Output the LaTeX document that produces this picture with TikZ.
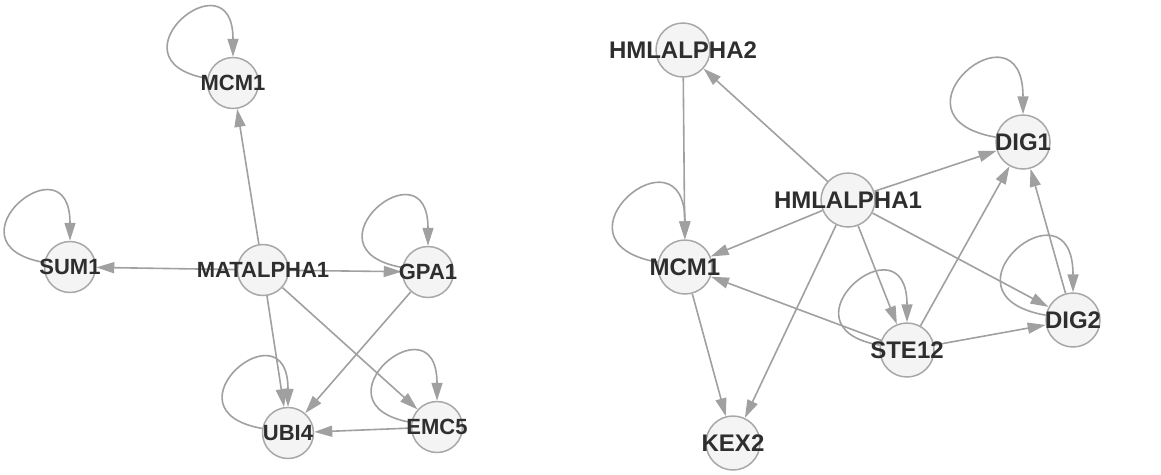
\documentclass[tikz,border=0pt]{standalone}
\usepackage{fontspec}
\setmainfont{Liberation Sans}
\usetikzlibrary{arrows.meta,backgrounds}
\definecolor{genefill}{HTML}{F4F4F4}
\definecolor{generim}{HTML}{A8A8A8}
\definecolor{linkgray}{HTML}{A0A0A0}
\definecolor{genetext}{HTML}{2E2E2E}

\begin{document}
\begin{tikzpicture}[x=1pt,y=-1pt,
    gene/.style={circle,draw=generim,line width=1.5pt,fill=genefill,minimum size=#1,inner sep=0pt},
    gene/.default=51pt,
    every label/.style={text=genetext,font=\bfseries\fontsize{22}{22}\selectfont},
    link/.style={draw=linkgray,line width=1.6pt,-{Triangle[length=18pt,width=11pt]}},
    selfloop/.style={out=170,in=90,min distance=#1},
    selfloop/.default=105pt]
    \useasboundingbox (0,0) rectangle (1161,474);

    % left network
    \node [gene,label=center:MCM1] (lmcm) at (233,83) {};
    \node [gene,label=center:SUM1] (sum) at (70,267) {};
    \node [gene,label=center:MATALPHA1] (mat) at (263,270) {};
    \node [gene,label=center:GPA1] (gpa) at (428,272) {};
    \node [gene,label=center:UBI4] (ubi) at (288,433) {};
    \node [gene,label=center:EMC5] (emc) at (437,427) {};

    % right network
    \begin{scope}[every label/.style={text=genetext,font=\bfseries\fontsize{24}{24}\selectfont}]
      \node [gene=54pt,label=center:HMLALPHA2] (hml2) at (683,50) {};
      \node [gene=54pt,label=center:HMLALPHA1] (hml1) at (848,200) {};
      \node [gene=54pt,label=center:DIG1] (dig1) at (1023,142) {};
      \node [gene=54pt,label=center:MCM1] (rmcm) at (685,267) {};
      \node [gene=54pt,label=center:STE12] (ste) at (907,350) {};
      \node [gene=54pt,label=center:DIG2] (dig2) at (1073,320) {};
      \node [gene=54pt,label=center:KEX2] (kex) at (733,443) {};
    \end{scope}

    \begin{scope}[on background layer]
      \draw [link] (mat) -- (lmcm);
      \draw [link] (mat) -- (sum);
      \draw [link] (mat) -- (gpa);
      \draw [link] (mat) -- (ubi);
      \draw [link] (mat) -- (emc);
      \draw [link] (gpa) -- (ubi);
      \draw [link] (emc) -- (ubi);
      \draw [link] (lmcm) to [selfloop] (lmcm);
      \draw [link] (sum) to [selfloop] (sum);
      \draw [link] (gpa) to [selfloop] (gpa);
      \draw [link] (ubi) to [selfloop] (ubi);
      \draw [link] (emc) to [selfloop] (emc);

      \draw [link] (hml1) -- (hml2);
      \draw [link] (hml2) -- (rmcm);
      \draw [link] (hml1) -- (rmcm);
      \draw [link] (hml1) -- (dig1);
      \draw [link] (hml1) -- (ste);
      \draw [link] (hml1) -- (dig2);
      \draw [link] (hml1) -- (kex);
      \draw [link] (rmcm) -- (kex);
      \draw [link] (ste) -- (rmcm);
      \draw [link] (ste) -- (dig1);
      \draw [link] (ste) -- (dig2);
      \draw [link] (dig2) -- (dig1);
      \draw [link] (rmcm) to [selfloop=118pt] (rmcm);
      \draw [link] (dig1) to [selfloop=118pt] (dig1);
      \draw [link] (ste) to [selfloop=108pt] (ste);
      \draw [link] (dig2) to [selfloop=118pt] (dig2);
    \end{scope}
\end{tikzpicture}
\end{document}
